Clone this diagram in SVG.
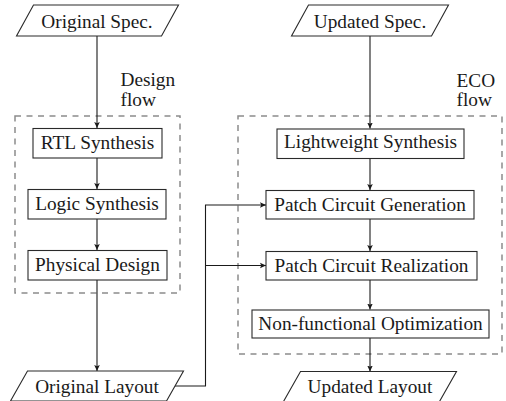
<svg xmlns="http://www.w3.org/2000/svg" width="506" height="401" viewBox="0 0 506 401">
  <style>
    .t { font-family: "Liberation Serif", "Times New Roman", serif; font-size: 19.3px; fill: #1a1a1a; }
    .c { text-anchor: middle; }
    .box { fill: #fff; stroke: #2a2a2a; stroke-width: 1.1; }
    .region { fill: none; stroke: #8c8c8c; stroke-width: 1.5; stroke-dasharray: 6 5.5; }
    .wire { fill: none; stroke: #1a1a1a; stroke-width: 1.1; }
  </style>
  <defs>
    <marker id="arr" markerWidth="8" markerHeight="8" refX="6" refY="4" orient="auto" markerUnits="userSpaceOnUse">
      <path d="M0,1.2 L6,4 L0,6.8 L1.2,4 Z" fill="#1a1a1a"/>
    </marker>
  </defs>
  <rect width="506" height="401" fill="#fff"/>

  <!-- dashed flow regions -->
  <g id="design-flow-region">
    <rect class="region" x="15" y="116" width="165" height="177"/>
    <text class="t" x="120.5" y="86">Design</text>
    <text class="t" x="120.5" y="106">flow</text>
  </g>
  <g id="eco-flow-region">
    <rect class="region" x="238" y="116" width="264" height="238"/>
    <text class="t" x="456.5" y="87">ECO</text>
    <text class="t" x="456.5" y="106">flow</text>
  </g>

  <!-- connectors -->
  <g id="connectors">
    <line class="wire" x1="97" y1="36" x2="97" y2="128" marker-end="url(#arr)"/>
    <line class="wire" x1="97" y1="158" x2="97" y2="189" marker-end="url(#arr)"/>
    <line class="wire" x1="97" y1="219" x2="97" y2="250" marker-end="url(#arr)"/>
    <line class="wire" x1="97" y1="280" x2="97" y2="371" marker-end="url(#arr)"/>

    <line class="wire" x1="370" y1="36" x2="370" y2="128.5" marker-end="url(#arr)"/>
    <line class="wire" x1="370" y1="158.5" x2="370" y2="190" marker-end="url(#arr)"/>
    <line class="wire" x1="370" y1="219" x2="370" y2="251" marker-end="url(#arr)"/>
    <line class="wire" x1="370" y1="280" x2="370" y2="309.5" marker-end="url(#arr)"/>
    <line class="wire" x1="370" y1="338" x2="370" y2="371.5" marker-end="url(#arr)"/>

    <polyline class="wire" points="175,386 205.5,386 205.5,205 266,205" marker-end="url(#arr)"/>
    <polyline class="wire" points="205.5,265.5 266,265.5" marker-end="url(#arr)"/>
  </g>

  <!-- input / output specs -->
  <g id="original-spec">
    <polygon class="box" points="33.5,5 178.5,5 161.5,36 16.5,36"/>
    <text class="t c" x="97" y="28">Original Spec.</text>
  </g>
  <g id="updated-spec">
    <polygon class="box" points="308.5,5 448.5,5 431.5,36 291.5,36"/>
    <text class="t c" x="370" y="28">Updated Spec.</text>
  </g>
  <g id="original-layout">
    <polygon class="box" points="27.5,371 183.5,371 166.5,401 10.5,401"/>
    <text class="t c" x="97" y="392.5">Original Layout</text>
  </g>
  <g id="updated-layout">
    <polygon class="box" points="300.5,371.5 456.5,371.5 439.5,401.5 283.5,401.5"/>
    <text class="t c" x="370" y="393">Updated Layout</text>
  </g>

  <!-- design flow steps -->
  <g id="rtl-synthesis">
    <rect class="box" x="33" y="128.5" width="129" height="29.5"/>
    <text class="t c" x="97.5" y="148.5">RTL Synthesis</text>
  </g>
  <g id="logic-synthesis">
    <rect class="box" x="28" y="189.5" width="138" height="29.5"/>
    <text class="t c" x="97" y="209.5">Logic Synthesis</text>
  </g>
  <g id="physical-design">
    <rect class="box" x="28" y="250.5" width="139" height="29.5"/>
    <text class="t c" x="97.5" y="270.5">Physical Design</text>
  </g>

  <!-- ECO flow steps -->
  <g id="lightweight-synthesis">
    <rect class="box" x="277" y="129" width="187" height="29.5"/>
    <text class="t c" x="370.5" y="148">Lightweight Synthesis</text>
  </g>
  <g id="patch-circuit-generation">
    <rect class="box" x="266" y="190.5" width="208" height="28.5"/>
    <text class="t c" x="370" y="210.5">Patch Circuit Generation</text>
  </g>
  <g id="patch-circuit-realization">
    <rect class="box" x="266" y="251.5" width="211" height="28.5"/>
    <text class="t c" x="371.5" y="271.5">Patch Circuit Realization</text>
  </g>
  <g id="non-functional-optimization">
    <rect class="box" x="252" y="310" width="237" height="28"/>
    <text class="t c" x="370.5" y="330">Non-functional Optimization</text>
  </g>
</svg>
